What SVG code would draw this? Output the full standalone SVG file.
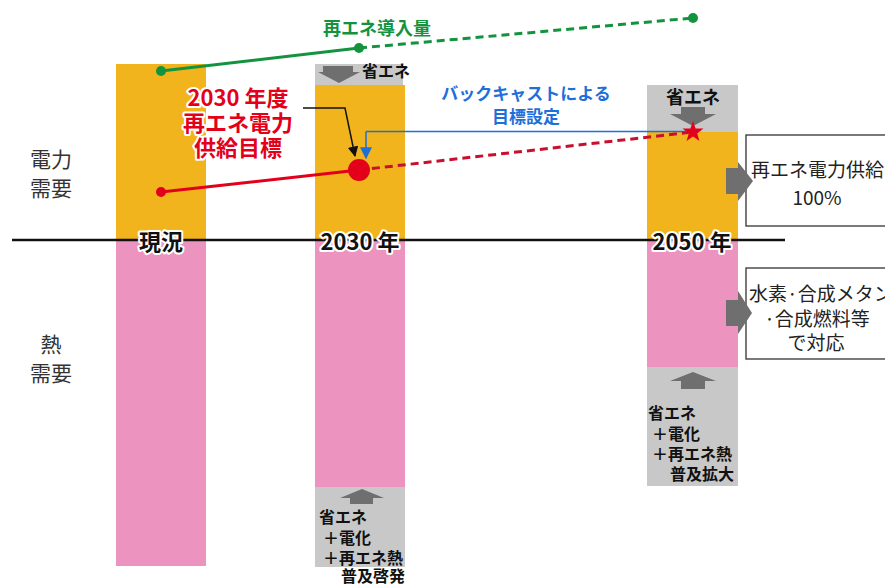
<svg xmlns="http://www.w3.org/2000/svg" width="885" height="587" viewBox="0 0 885 587">
<defs>
<style>
text{font-family:"Noto Sans CJK JP","Noto Sans",sans-serif}
.y{fill:#F1B41D}.p{fill:#EC93BF}.g{fill:#C8C8C8}.ar{fill:#6F6F6F}
.ax{font-size:22px;font-weight:bold;fill:#111;stroke:#fff;stroke-width:4;paint-order:stroke;stroke-linejoin:round;text-anchor:middle;dominant-baseline:central}
.dm{font-size:21px;fill:#333;text-anchor:middle;dominant-baseline:central}
.bk{font-size:16px;font-weight:bold;fill:#111;dominant-baseline:central}
.bx{font-size:19px;fill:#222;dominant-baseline:central}
.box{fill:#fff;stroke:#333;stroke-width:1.3}
</style>
<marker id="mb" viewBox="0 0 10 10" refX="9" refY="5" markerWidth="7" markerHeight="7" orient="auto"><path d="M0,0L10,5L0,10z" fill="#111"/></marker>
<marker id="mu" viewBox="0 0 10 10" refX="9" refY="5" markerWidth="8" markerHeight="8" orient="auto"><path d="M0,0L10,5L0,10z" fill="#1E6FD9"/></marker>
</defs>
<rect width="885" height="587" fill="#fff"/>
<g id="bar-now">
<rect class="y" x="116" y="64" width="90" height="176"/>
<rect class="p" x="116" y="240" width="90" height="326"/>
</g>
<g id="bar-2030">
<rect class="g" x="315" y="64" width="88" height="21"/>
<rect class="y" x="315" y="85" width="90" height="155"/>
<rect class="p" x="315" y="240" width="90" height="247"/>
<rect class="g" x="315" y="487" width="90" height="80"/>
<path class="ar" d="M323,66H353V72H360L339,83L318,72H323Z"/>
<text class="bk" x="362" y="70">省エネ</text>
<path class="ar" d="M362,489L384,498H373V504H350V498H340Z"/>
<text class="bk" x="319" y="516">省エネ</text>
<text class="bk" x="323" y="537">＋電化</text>
<text class="bk" x="323" y="557">＋再エネ熱</text>
<text class="bk" x="341" y="575">普及啓発</text>
</g>
<g id="bar-2050">
<rect class="g" x="647" y="85" width="91" height="47"/>
<rect class="y" x="647" y="132" width="91" height="108"/>
<rect class="p" x="647" y="240" width="91" height="127"/>
<rect class="g" x="647" y="367" width="91" height="119"/>
<text class="bk" x="693" y="96" text-anchor="middle" style="font-size:18px">省エネ</text>
<path class="ar" d="M681,107H705V114H716L693,126L670,114H681Z"/>
<path class="ar" d="M693,372L716,381H705V389H681V381H670Z"/>
<text class="bk" x="648" y="412">省エネ</text>
<text class="bk" x="652" y="433">＋電化</text>
<text class="bk" x="652" y="453">＋再エネ熱</text>
<text class="bk" x="670" y="473">普及拡大</text>
</g>
<g id="axis">
<line x1="12" y1="240" x2="785" y2="240" stroke="#111" stroke-width="2.5"/>
<text class="ax" x="161" y="240">現況</text>
<text class="ax" x="360" y="240">2030 年</text>
<text class="ax" x="692" y="240">2050 年</text>
</g>
<g id="labels-left">
<text class="dm" x="51" y="158">電力</text>
<text class="dm" x="51" y="187">需要</text>
<text class="dm" x="51" y="343">熱</text>
<text class="dm" x="51" y="372">需要</text>
</g>
<g id="box-power">
<rect class="box" x="746" y="135" width="160" height="91"/>
<path class="ar" d="M726,168H738V162L753,181L738,201V194H726Z"/>
<text class="bx" x="751" y="168">再エネ電力供給</text>
<text class="bx" x="817" y="196" text-anchor="middle">100%</text>
</g>
<g id="box-heat">
<rect class="box" x="746" y="268" width="160" height="91"/>
<path class="ar" d="M726,300H738V291L752,313L738,334V326H726Z"/>
<text class="bx" x="749" y="292">水素·合成メタン</text>
<text class="bx" x="817" y="317" text-anchor="middle">·合成燃料等</text>
<text class="bx" x="816" y="341" text-anchor="middle">で対応</text>
</g>
<g id="connectors">
<polyline points="161,71 359,48" stroke="#14933F" stroke-width="3" fill="none"/>
<line x1="359" y1="48" x2="693" y2="18" stroke="#14933F" stroke-width="3" stroke-dasharray="8,5"/>
<circle cx="161" cy="71" r="5" fill="#14933F"/>
<circle cx="359" cy="48" r="5" fill="#14933F"/>
<circle cx="693" cy="18" r="5" fill="#14933F"/>
<line x1="366" y1="131.5" x2="690" y2="131.5" stroke="#1E6FD9" stroke-width="1.5"/>
<polyline points="366,131.5 366,158" stroke="#1E6FD9" stroke-width="1.5" fill="none" marker-end="url(#mu)"/>
<polyline points="303,108 345,108 355,156" stroke="#111" stroke-width="1.5" fill="none" marker-end="url(#mb)"/>
<line x1="161" y1="192" x2="359" y2="170" stroke="#E3001B" stroke-width="3"/>
<line x1="359" y1="170" x2="693" y2="132" stroke="#C8102E" stroke-width="3" stroke-dasharray="8,5"/>
<circle cx="161" cy="192" r="5" fill="#E3001B"/>
<circle cx="359" cy="170" r="11" fill="#E3001B"/>
<path d="M693,121L695.6,128.4L703.5,128.6L697.2,133.4L699.5,141L693,136.5L686.5,141L688.8,133.4L682.5,128.6L690.4,128.4Z" fill="#E3001B"/>
</g>
<g id="titles">
<text x="377" y="27" text-anchor="middle" dominant-baseline="central" style="font-size:18px;font-weight:bold;fill:#14933F">再エネ導入量</text>
<g style="font-size:22px;font-weight:bold;fill:#E3001B;stroke:#fff;stroke-width:4;paint-order:stroke;stroke-linejoin:round" text-anchor="middle">
<text x="238" y="96" dominant-baseline="central">2030 年度</text>
<text x="238" y="121" dominant-baseline="central">再エネ電力</text>
<text x="238" y="146" dominant-baseline="central">供給目標</text>
</g>
<g style="font-size:17px;font-weight:bold;fill:#1E6FD9" text-anchor="middle">
<text x="526" y="92" dominant-baseline="central">バックキャストによる</text>
<text x="526" y="115" dominant-baseline="central">目標設定</text>
</g>
</g>
</svg>
